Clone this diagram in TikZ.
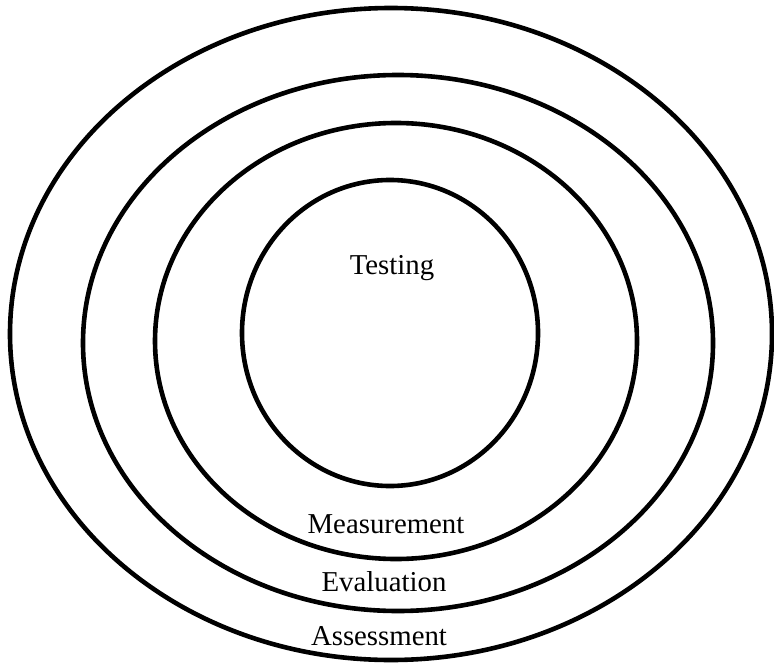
\documentclass[tikz,border=0pt]{standalone}
\usepackage{fontspec}
\setmainfont{Liberation Serif}
\usetikzlibrary{shapes.geometric}
\tikzstyle{ring} = [
 ellipse,
 draw=black,
 line width=2.3pt,
 inner sep=0pt
]
\tikzstyle{label} = [
 font=\fontsize{14.4}{17}\selectfont,
 inner sep=0pt
]

\begin{document}
\begin{tikzpicture}[x=0.5pt,y=-0.5pt]
  \useasboundingbox (0,0) rectangle (774,663);
  % rings, outer to inner
  \node [ring, minimum width=381pt, minimum height=326pt] (assessment) at (391,334) {};
  \node [ring, minimum width=315pt, minimum height=268pt] (evaluation) at (398,343) {};
  \node [ring, minimum width=241pt, minimum height=218pt] (measurement) at (396,341) {};
  \node [ring, minimum width=148pt, minimum height=153pt] (testing) at (390,333) {};
  % names
  \node [label] (testingText) at (392,268) {Testing};
  \node [label] (measurementText) at (386,524) {Measurement};
  \node [label] (evaluationText) at (384,582) {Evaluation};
  \node [label] (assessmentText) at (379,636) {Assessment};
\end{tikzpicture}
\end{document}
